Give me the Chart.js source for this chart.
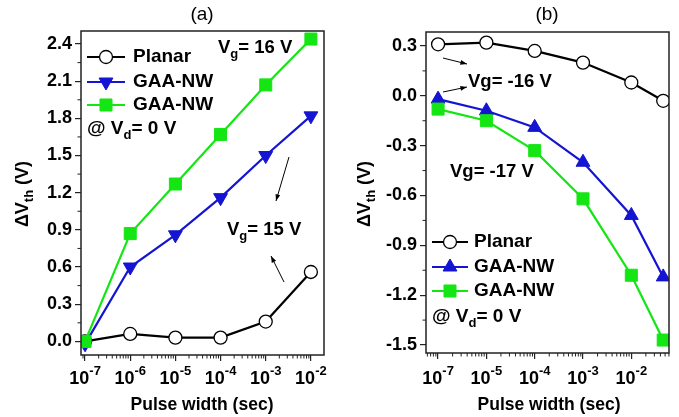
<!DOCTYPE html>
<html lang="en">
<head>
<meta charset="UTF-8" />
<title>Pulse width</title>
<script src="https://cdn.jsdelivr.net/npm/chart.js"></script>
<style>
  body { margin: 0; background: #fff; }
  .panel { position: absolute; top: 0; height: 417px; }
</style>
</head>
<body>
<div class="panel" style="left:0;width:340px"><canvas id="chartA"></canvas></div>
<div class="panel" style="left:340px;width:339px"><canvas id="chartB"></canvas></div>
<script>
// panel (a): x is log10(pulse width)
const xA = [-7, -6, -5, -4, -3, -2];
const planarA = [0.0, 0.06, 0.03, 0.03, 0.16, 0.56];
const gaa15A = [-0.02, 0.60, 0.86, 1.16, 1.50, 1.82];
const gaa16A = [0.0, 0.87, 1.27, 1.67, 2.07, 2.44];
const yTicksA = [0.0, 0.3, 0.6, 0.9, 1.2, 1.5, 1.8, 2.1, 2.4];
const xTicksA = [-7, -6, -5, -4, -3, -2];
const xLabelsA = ["-7", "-6", "-5", "-4", "-3", "-2"];

// panel (b): x axis is not a plain log axis, points sit on tick slots
const xB = [0, 1, 2, 3, 4, 4.66];
const planarB = [0.31, 0.32, 0.27, 0.20, 0.08, -0.03];
const gaa16B = [-0.02, -0.09, -0.19, -0.40, -0.72, -1.09];
const gaa17B = [-0.08, -0.15, -0.33, -0.62, -1.08, -1.47];
const yTicksB = [-1.5, -1.2, -0.9, -0.6, -0.3, 0.0, 0.3];
const xTicksB = [0, 1, 2, 3, 4];
const xLabelsB = ["-7", "-5", "-4", "-3", "-2"];

const FONT = "'Liberation Sans', Arial, sans-serif";
const BLUE = "#1414d2";
const GREEN = "#14e614";

function pts(xs, ys) { return xs.map((x, i) => ({ x: x, y: ys[i] })); }

function planarSet(data) {
  return { label: "Planar", data: data, borderColor: "#000", backgroundColor: "#fff",
    pointStyle: "circle", pointRadius: 6.5, pointBorderWidth: 1.3, borderWidth: 2.2, order: 2 };
}
function blueSet(data, rot) {
  return { label: "GAA-NW", data: data, borderColor: BLUE, backgroundColor: BLUE,
    pointStyle: "triangle", rotation: rot, pointRadius: 8, pointBorderWidth: 1, borderWidth: 2.2, order: 1 };
}
function greenSet(data) {
  return { label: "GAA-NW", data: data, borderColor: GREEN, backgroundColor: GREEN,
    pointStyle: "rect", pointRadius: 8.5, pointBorderWidth: 1, borderWidth: 2.2, order: 0 };
}

// text with sub/superscripts: parts = [[text, "n"|"sub"|"sup"], ...]
function rich(ctx, parts, x, y, size, align) {
  const big = "bold " + size + "px " + FONT;
  const small = "bold " + Math.round(size * 0.7) + "px " + FONT;
  let w = 0;
  parts.forEach(p => { ctx.font = p[1] === "n" ? big : small; w += ctx.measureText(p[0]).width; });
  let cx = align === "center" ? x - w / 2 : x;
  ctx.textBaseline = "middle";
  ctx.textAlign = "left";
  parts.forEach(p => {
    ctx.font = p[1] === "n" ? big : small;
    let dy = p[1] === "sub" ? size * 0.35 : p[1] === "sup" ? -size * 0.4 : 0;
    ctx.fillText(p[0], cx, y + dy);
    cx += ctx.measureText(p[0]).width;
  });
}

function arrow(ctx, x1, y1, x2, y2) {
  const a = Math.atan2(y2 - y1, x2 - x1);
  ctx.strokeStyle = "#000";
  ctx.fillStyle = "#000";
  ctx.lineWidth = 1;
  ctx.beginPath(); ctx.moveTo(x1, y1); ctx.lineTo(x2, y2); ctx.stroke();
  ctx.beginPath();
  ctx.moveTo(x2, y2);
  ctx.lineTo(x2 - 7 * Math.cos(a - 0.35), y2 - 7 * Math.sin(a - 0.35));
  ctx.lineTo(x2 - 7 * Math.cos(a + 0.35), y2 - 7 * Math.sin(a + 0.35));
  ctx.closePath(); ctx.fill();
}

function decor(cfg) {
  return {
    id: "decor",
    afterDraw(chart) {
      const ctx = chart.ctx;
      const area = chart.chartArea;
      const xs = chart.scales.x, ys = chart.scales.y;
      ctx.save();
      // frame
      ctx.strokeStyle = "#222";
      ctx.lineWidth = 1.5;
      ctx.strokeRect(area.left, area.top, area.right - area.left, area.bottom - area.top);
      // minor x ticks (log pattern inside each slot)
      ctx.lineWidth = 1;
      ctx.beginPath();
      for (let i = Math.floor(xs.min) - 1; i <= Math.ceil(xs.max); i++) {
        for (let k = 2; k <= 9; k++) {
          const v = i + Math.log10(k);
          if (v < xs.min || v > xs.max) continue;
          const px = xs.getPixelForValue(v);
          ctx.moveTo(px, area.bottom); ctx.lineTo(px, area.bottom + 3.5);
        }
      }
      // minor y ticks
      const yt = cfg.yTicks;
      for (let i = -1; i < yt.length; i++) {
        const step = yt[1] - yt[0];
        const v = (i < 0 ? yt[0] - step : yt[i]) + step / 2;
        if (v < ys.min || v > ys.max) continue;
        const py = ys.getPixelForValue(v);
        ctx.moveTo(area.left, py); ctx.lineTo(area.left - 3.5, py);
      }
      ctx.stroke();
      ctx.fillStyle = "#000";
      // x tick labels 10^n
      cfg.xTicks.forEach((v, i) => {
        rich(ctx, [["10", "n"], [cfg.xLabels[i], "sup"]], xs.getPixelForValue(v), 379, 18, "center");
      });
      // axis titles
      rich(ctx, [["Pulse width (sec)", "n"]], cfg.xTitleX, 405, 17.5, "center");
      ctx.save();
      ctx.translate(cfg.yTitleX, 194);
      ctx.rotate(-Math.PI / 2);
      rich(ctx, [["\u0394V", "n"], ["th", "sub"], [" (V)", "n"]], 0, 0, 18, "center");
      ctx.restore();
      // panel title
      ctx.font = "19px " + FONT;
      ctx.textAlign = "center";
      ctx.textBaseline = "middle";
      ctx.fillText(cfg.title, cfg.titleX, 15);
      // legend
      const L = cfg.legend;
      chart.data.datasets.forEach((ds, i) => {
        const y = L.ys[i];
        ctx.strokeStyle = ds.borderColor;
        ctx.lineWidth = 2.2;
        ctx.beginPath(); ctx.moveTo(L.x0, y); ctx.lineTo(L.x1, y); ctx.stroke();
        ctx.fillStyle = ds.backgroundColor;
        ctx.strokeStyle = ds.borderColor;
        ctx.lineWidth = ds.pointBorderWidth;
        Chart.helpers.drawPoint(ctx, {
          pointStyle: ds.pointStyle, radius: ds.pointRadius, rotation: ds.rotation || 0,
          borderWidth: ds.pointBorderWidth
        }, (L.x0 + L.x1) / 2, y);
        ctx.fillStyle = "#000";
        rich(ctx, [[ds.label, "n"]], L.tx, y, 19, "left");
      });
      rich(ctx, [["@ V", "n"], ["d", "sub"], ["= 0 V", "n"]], L.x0, L.ys[3], 19, "left");
      // annotations
      cfg.notes.forEach(n => rich(ctx, n.parts, n.x, n.y, 18.5, "left"));
      cfg.arrows.forEach(a => arrow(ctx, a[0], a[1], a[2], a[3]));
      ctx.restore();
    }
  };
}

function makeChart(id, datasets, cfg) {
  return new Chart(document.getElementById(id), {
    type: "line",
    data: { datasets: datasets },
    options: {
      responsive: true,
      maintainAspectRatio: false,
      animation: false,
      layout: { autoPadding: false, padding: { top: cfg.top, right: cfg.right, left: 0, bottom: 0 } },
      plugins: { legend: { display: false }, tooltip: { enabled: false } },
      scales: {
        x: {
          type: "linear", min: cfg.xMin, max: cfg.xMax,
          afterBuildTicks: s => { s.ticks = cfg.xTicks.map(v => ({ value: v })); },
          afterFit: s => { s.height = cfg.xHeight; },
          ticks: { callback: () => "" },
          grid: { drawOnChartArea: false, color: "#222", lineWidth: 1.2, tickLength: 6 },
          border: { display: false }
        },
        y: {
          min: cfg.yMin, max: cfg.yMax,
          afterBuildTicks: s => { s.ticks = cfg.yTicks.map(v => ({ value: v })); },
          afterFit: s => { s.width = cfg.yWidth; },
          ticks: {
            color: "#000", padding: 3,
            font: { family: FONT, size: 18, weight: "bold" },
            callback: v => v.toFixed(1)
          },
          grid: { drawOnChartArea: false, color: "#222", lineWidth: 1.2, tickLength: 6 },
          border: { display: false }
        }
      }
    },
    plugins: [decor(cfg)]
  });
}

makeChart("chartA",
  [planarSet(pts(xA, planarA)), blueSet(pts(xA, gaa15A), 180), greenSet(pts(xA, gaa16A))],
  {
    top: 31, right: 16, xHeight: 62, yWidth: 81,
    xMin: -7.09, xMax: -1.71, yMin: -0.11, yMax: 2.505,
    xTicks: xTicksA, xLabels: xLabelsA, yTicks: yTicksA,
    xTitleX: 202, yTitleX: 23, title: "(a)", titleX: 202,
    legend: { x0: 87, x1: 125, tx: 133, ys: [57, 82, 105, 129] },
    notes: [
      { parts: [["V", "n"], ["g", "sub"], ["= 16 V", "n"]], x: 218, y: 48 },
      { parts: [["V", "n"], ["g", "sub"], ["= 15 V", "n"]], x: 227, y: 230 }
    ],
    arrows: [[289, 157, 276, 201], [284, 282, 271, 256]]
  });

makeChart("chartB",
  [planarSet(pts(xB, planarB)), blueSet(pts(xB, gaa16B), 0), greenSet(pts(xB, gaa17B))],
  {
    top: 32, right: 10, xHeight: 64, yWidth: 86,
    xMin: -0.25, xMax: 4.78, yMin: -1.548, yMax: 0.384,
    xTicks: xTicksB, xLabels: xLabelsB, yTicks: yTicksB,
    xTitleX: 209, yTitleX: 25, title: "(b)", titleX: 207,
    legend: { x0: 92, x1: 128, tx: 134, ys: [242, 267, 291, 317] },
    notes: [
      { parts: [["Vg= -16 V", "n"]], x: 128, y: 82 },
      { parts: [["Vg= -17 V", "n"]], x: 110, y: 172 }
    ],
    arrows: [[103, 58, 127, 64], [103, 92, 127, 87]]
  });
</script>
</body>
</html>
